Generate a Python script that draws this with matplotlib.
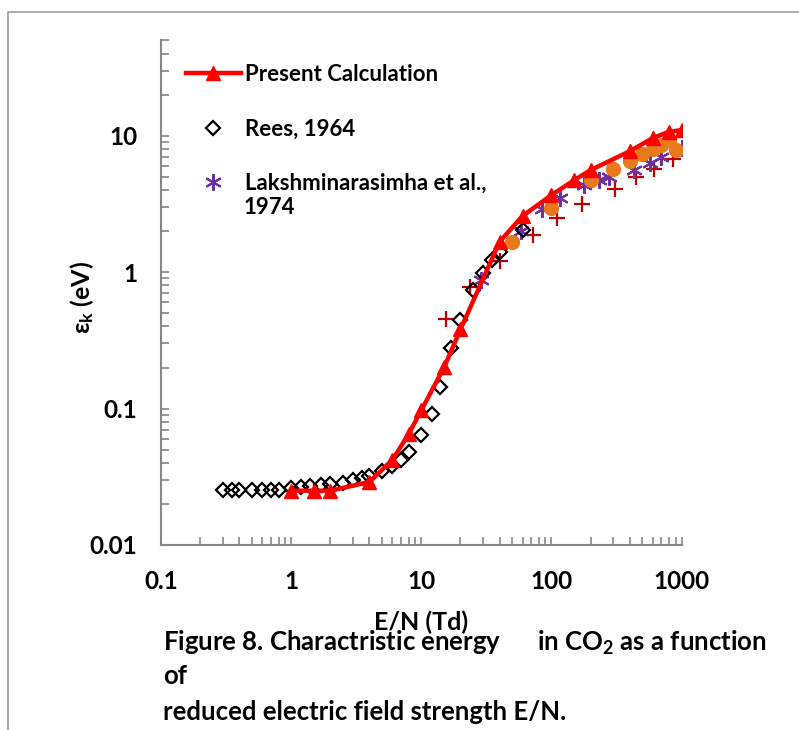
import matplotlib
matplotlib.use("Agg")
import matplotlib.pyplot as plt
from matplotlib.lines import Line2D
from matplotlib.ticker import LogLocator, FixedLocator, FixedFormatter, NullFormatter

plt.rcParams['font.family'] = ['Lato', 'DejaVu Sans']
plt.rcParams['font.weight'] = 'bold'
plt.rcParams['mathtext.fontset'] = 'custom'
plt.rcParams['mathtext.rm'] = 'Lato:bold'
plt.rcParams['mathtext.it'] = 'Lato:bold'
plt.rcParams['mathtext.bf'] = 'Lato:bold'

# present calculation (E/N in Td, characteristic energy in eV)
calc_en = [1, 1.5, 2, 4, 6, 8, 10, 15, 20, 40, 60, 100, 150, 200, 400, 600, 800, 1000]
calc_ek = [0.025, 0.025, 0.025, 0.029, 0.042, 0.065, 0.097, 0.201, 0.38, 1.67, 2.58,
           3.67, 4.73, 5.6, 7.7, 9.6, 10.7, 11.0]

# Rees, 1964
rees_en = [0.3, 0.35, 0.4, 0.5, 0.6, 0.7, 0.8, 1.0, 1.2, 1.4, 1.7, 2.0, 2.5, 3.0, 3.5,
           4.0, 5.0, 6.0, 7.0, 8.0, 10, 12, 14, 17, 20, 25, 30, 35, 40, 60]
rees_ek = [0.0255, 0.0255, 0.0255, 0.0255, 0.0255, 0.0255, 0.0255, 0.0262, 0.0266,
           0.0272, 0.0275, 0.0282, 0.0286, 0.0301, 0.031, 0.0321, 0.035, 0.038, 0.042,
           0.048, 0.064, 0.092, 0.143, 0.277, 0.445, 0.74, 0.98, 1.22, 1.41, 2.03]

# Lakshminarasimha et al., 1974
lak_en = [28.7, 58, 85, 116, 178, 233, 277, 433, 571, 697, 1000]
lak_ek = [0.87, 2.0, 2.9, 3.47, 4.35, 4.73, 5.02, 5.64, 6.36, 6.98, 8.13]

# other measurements (not in legend)
plus_en = [15.6, 23.6, 40, 72.5, 111, 171, 309, 449, 611, 866]
plus_ek = [0.452, 0.785, 1.2, 1.87, 2.51, 3.18, 4.09, 4.98, 5.72, 6.77]

circ_en = [50, 100, 200, 300, 400, 500, 600, 700, 800, 900]
circ_ek = [1.66, 2.95, 4.71, 5.67, 6.52, 7.31, 7.94, 8.62, 9.25, 7.85]

x_ticks = [0.1, 1, 10, 100, 1000]
x_tick_labels = ['0.1', '1', '10', '100', '1000']
y_ticks = [0.01, 0.1, 1, 10]
y_tick_labels = ['0.01', '0.1', '1', '10']

W, H = 799, 730
fig = plt.figure(figsize=(W / 100, H / 100), dpi=100)
ax = fig.add_axes([161 / W, 1 - 545 / H, (681.5 - 161) / W, (545 - 40.4) / H])

grey = '#868686'

ax.plot(plus_en, plus_ek, ls='none', marker='+', ms=11, mew=1.6, color='#C00000')
ax.plot(lak_en, lak_ek, ls='none', marker=(6, 2, 0), ms=12, mew=1.5, color='#7030A0',
        label='Lakshminarasimha et al.,')
ax.plot(circ_en, circ_ek, ls='none', marker='o', ms=10, color='#E97A1C', mec='#E97A1C')
ax.plot(rees_en, rees_ek, ls='none', marker='D', ms=7.5, mew=1.6, mfc='none', mec='black',
        label='Rees, 1964')
ax.plot(calc_en, calc_ek, color='#FF0000', lw=3.2, marker='^', ms=10.5, mec='#FF0000',
        label='Present Calculation')

ax.set_xscale('log')
ax.set_yscale('log')
ax.set_xlim(0.1, 1000)
ax.set_ylim(0.01, 50)

ax.xaxis.set_major_locator(FixedLocator(x_ticks))
ax.xaxis.set_major_formatter(FixedFormatter(x_tick_labels))
ax.yaxis.set_major_locator(FixedLocator(y_ticks))
ax.yaxis.set_major_formatter(FixedFormatter(y_tick_labels))
ax.xaxis.set_minor_locator(LogLocator(base=10, subs=range(2, 10)))
ax.yaxis.set_minor_locator(LogLocator(base=10, subs=range(2, 10)))
ax.xaxis.set_minor_formatter(NullFormatter())
ax.yaxis.set_minor_formatter(NullFormatter())

ax.tick_params(which='both', direction='in', color=grey, width=1.2, length=6,
               labelsize=17.5, top=False, right=False)
ax.tick_params(axis='x', which='major', pad=18)
ax.tick_params(axis='y', which='major', pad=17)

for side in ['top', 'right']:
    ax.spines[side].set_visible(False)
for side in ['left', 'bottom']:
    ax.spines[side].set_color(grey)
    ax.spines[side].set_linewidth(1.5)

ax.set_xlabel('E/N (Td)', fontsize=18, fontweight='bold', va='center')
ax.xaxis.set_label_coords(0.5, -0.1526)
ax.set_ylabel(r'ε$_\mathregular{k}$ (eV)', fontsize=18, fontweight='bold', va='center')
ax.yaxis.set_label_coords(-0.152, 0.49)

handles, labels = ax.get_legend_handles_labels()
order = [2, 1, 0]
leg = ax.legend([handles[i] for i in order], [labels[i] for i in order],
                loc='upper left', bbox_to_anchor=(0.026, 0.975), frameon=False,
                fontsize=16, handlelength=2.5, handletextpad=0.15,
                labelspacing=1.5, borderpad=0, numpoints=1)
for t in leg.get_texts():
    t.set_fontweight('bold')
ax.text(0.158, 0.668, '1974', transform=ax.transAxes, fontsize=16,
        fontweight='bold', va='center', ha='left')

# caption under the plot
cap = dict(fontsize=18.5, fontweight='bold', va='center', ha='left')
fig.text(163 / W, 1 - 643 / H, r'Figure 8. Charactristic energy      in CO$_2$ as a function', **cap)
fig.text(163 / W, 1 - 676 / H, 'of', **cap)
fig.text(163 / W, 1 - 712 / H, 'reduced electric field strength E/N.', **cap)

# outer frame
fig.add_artist(Line2D([8 / W, 8 / W, 1], [0, 1 - 12 / H, 1 - 12 / H],
                      transform=fig.transFigure, color='#A0A0A0', lw=1.2))

fig.savefig('out.png', dpi=100)
